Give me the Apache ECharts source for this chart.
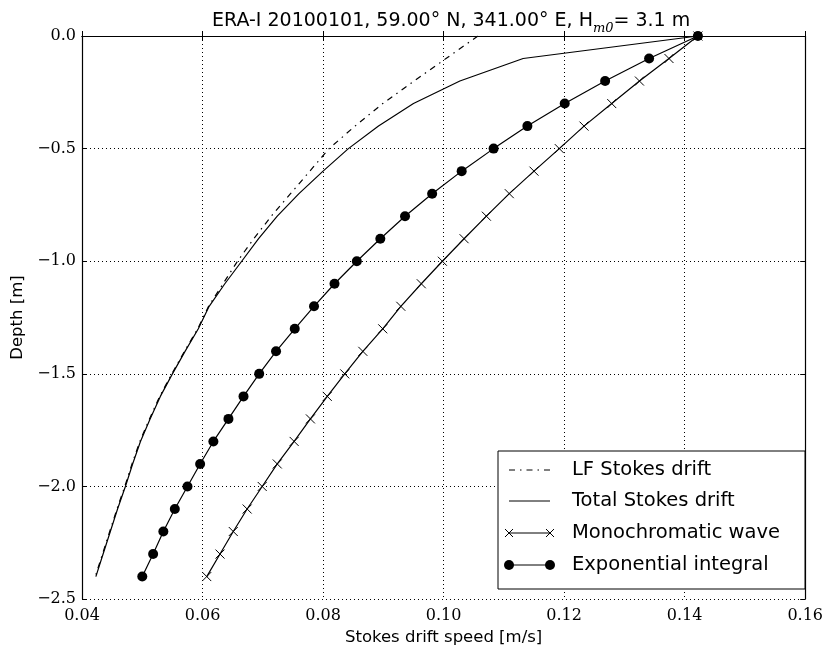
<!DOCTYPE html>
<html>
<head>
<meta charset="utf-8">
<script src="https://cdn.jsdelivr.net/npm/echarts@6/dist/echarts.min.js"></script>
<style>html,body{margin:0;padding:0;background:#fff;}#c{width:826px;height:651px;}</style>
</head>
<body>
<div id="c"></div>
<script>
const depth = [0, -0.1, -0.2, -0.3, -0.4, -0.5, -0.6, -0.7, -0.8, -0.9, -1.0, -1.1, -1.2, -1.3, -1.4, -1.5, -1.6, -1.7, -1.8, -1.9, -2.0, -2.1, -2.2, -2.3, -2.4];
const lfStokes = [0.1057, 0.1004, 0.0951, 0.0899, 0.0853, 0.0810, 0.0778, 0.0746, 0.0714, 0.0685, 0.0658, 0.0634, 0.0610, 0.0592, 0.0570, 0.0549, 0.0529, 0.0512, 0.0496, 0.0483, 0.0471, 0.0458, 0.0446, 0.0434, 0.0422];
const totalStokes = [0.1422, 0.1132, 0.1027, 0.0950, 0.0892, 0.0842, 0.0800, 0.0760, 0.0724, 0.0693, 0.0665, 0.0637, 0.0611, 0.0593, 0.0571, 0.0550, 0.0530, 0.0513, 0.0497, 0.0484, 0.0472, 0.0459, 0.0447, 0.0435, 0.0423];
const monoWave = [0.1422, 0.1374, 0.1325, 0.1279, 0.1233, 0.1192, 0.1150, 0.1109, 0.1071, 0.1034, 0.0998, 0.0963, 0.0929, 0.0899, 0.0866, 0.0836, 0.0807, 0.0779, 0.0752, 0.0724, 0.0699, 0.0674, 0.0651, 0.0629, 0.0607];
const expIntegral = [0.1422, 0.1341, 0.1268, 0.1201, 0.1139, 0.1083, 0.1030, 0.0981, 0.0936, 0.0895, 0.0856, 0.0819, 0.0785, 0.0753, 0.0722, 0.0694, 0.0668, 0.0643, 0.0618, 0.0596, 0.0575, 0.0554, 0.0535, 0.0518, 0.0500];
const seriesNames = ['LF Stokes drift', 'Total Stokes drift', 'Monochromatic wave', 'Exponential integral'];
const xTicks = {min: 0.04, max: 0.16, interval: 0.02};
const yTicks = {min: -2.5, max: 0, interval: 0.5};

const pairs = arr => arr.map((v, i) => [v, depth[i]]);
const serif = 'DejaVu Serif';
const sans = 'DejaVu Sans';
const xMark = 'path://M0,0L10,10M10,0L0,10';

const chart = echarts.init(document.getElementById('c'), null, {renderer: 'canvas'});

const tickStyle = {show: true, inside: true, length: 5, lineStyle: {color: '#000', width: 1}};
const axisLine = {show: true, lineStyle: {color: '#000', width: 1.2}};
const grid = {show: true, lineStyle: {color: '#000', width: 1, type: [1, 3]}};

// Legend rows
const legX0 = 498, legY0 = 451, legW = 307, legH = 138;
const rowY = [470, 501, 533, 565];
const lx1 = 509, lx2 = 550, tx = 572;
const legendEls = [
  {type: 'rect', shape: {x: legX0, y: legY0, width: legW, height: legH}, style: {fill: '#fff', stroke: '#000', lineWidth: 1}, z: 10},
  {type: 'line', shape: {x1: lx1, y1: rowY[0], x2: lx2, y2: rowY[0]}, style: {stroke: '#000', lineWidth: 1, lineDash: [6, 5, 1.5, 5]}, z: 11},
  {type: 'line', shape: {x1: lx1, y1: rowY[1], x2: lx2, y2: rowY[1]}, style: {stroke: '#000', lineWidth: 1}, z: 11},
  {type: 'line', shape: {x1: lx1, y1: rowY[2], x2: lx2, y2: rowY[2]}, style: {stroke: '#000', lineWidth: 1}, z: 11},
  {type: 'line', shape: {x1: lx1 - 4, y1: rowY[2] - 4, x2: lx1 + 4, y2: rowY[2] + 4}, style: {stroke: '#000', lineWidth: 1}, z: 11},
  {type: 'line', shape: {x1: lx1 - 4, y1: rowY[2] + 4, x2: lx1 + 4, y2: rowY[2] - 4}, style: {stroke: '#000', lineWidth: 1}, z: 11},
  {type: 'line', shape: {x1: lx2 - 4, y1: rowY[2] - 4, x2: lx2 + 4, y2: rowY[2] + 4}, style: {stroke: '#000', lineWidth: 1}, z: 11},
  {type: 'line', shape: {x1: lx2 - 4, y1: rowY[2] + 4, x2: lx2 + 4, y2: rowY[2] - 4}, style: {stroke: '#000', lineWidth: 1}, z: 11},
  {type: 'line', shape: {x1: lx1, y1: rowY[3], x2: lx2, y2: rowY[3]}, style: {stroke: '#000', lineWidth: 1}, z: 11},
  {type: 'circle', shape: {cx: lx1, cy: rowY[3], r: 5}, style: {fill: '#000'}, z: 11},
  {type: 'circle', shape: {cx: lx2, cy: rowY[3], r: 5}, style: {fill: '#000'}, z: 11}
];
seriesNames.forEach((n, i) => {
  legendEls.push({type: 'text', x: tx, y: rowY[i], style: {text: n, fill: '#000', font: '19.5px "DejaVu Sans"', verticalAlign: 'middle'}, z: 11});
});

const option = {
  backgroundColor: '#fff',
  animation: false,
  title: {
    text: '{a|ERA-I 20100101, 59.00° N, 341.00° E, H}{s|m0}{a|= 3.1 m}',
    left: 207, top: 2,
    textStyle: {
      rich: {
        a: {fontFamily: sans, fontSize: 19, fontWeight: 'normal', color: '#000', lineHeight: 24, verticalAlign: 'bottom'},
        s: {fontFamily: serif, fontStyle: 'italic', fontWeight: 'normal', fontSize: 13, color: '#000', lineHeight: 24, verticalAlign: 'bottom', padding: [0, 0, -4, 0]}
      }
    }
  },
  grid: {left: 82, top: 36, right: 18, bottom: 50, containLabel: false},
  xAxis: [
    {
      type: 'value', position: 'bottom', min: xTicks.min, max: xTicks.max, interval: xTicks.interval,
      axisLine: axisLine, axisTick: tickStyle, splitLine: grid,
      axisLabel: {color: '#000', fontFamily: serif, fontSize: 16, margin: 9, formatter: v => v.toFixed(2)},
      name: 'Stokes drift speed [m/s]', nameLocation: 'middle', nameGap: 27,
      nameTextStyle: {color: '#000', fontFamily: sans, fontSize: 16.5}
    },
    {
      type: 'value', position: 'top', min: xTicks.min, max: xTicks.max, interval: xTicks.interval,
      axisLine: axisLine, axisTick: tickStyle, splitLine: {show: false}, axisLabel: {show: false}
    }
  ],
  yAxis: [
    {
      type: 'value', position: 'left', min: yTicks.min, max: yTicks.max, interval: yTicks.interval,
      axisLine: axisLine, axisTick: tickStyle, splitLine: grid,
      axisLabel: {color: '#000', fontFamily: serif, fontSize: 16, margin: 6, formatter: v => (v < 0 ? '\u2212' : '') + Math.abs(v).toFixed(1)},
      name: 'Depth [m]', nameLocation: 'middle', nameGap: 55,
      nameTextStyle: {color: '#000', fontFamily: sans, fontSize: 16.5}
    },
    {
      type: 'value', position: 'right', min: yTicks.min, max: yTicks.max, interval: yTicks.interval,
      axisLine: axisLine, axisTick: tickStyle, splitLine: {show: false}, axisLabel: {show: false}
    }
  ],
  series: [
    {
      name: seriesNames[0], type: 'line', data: pairs(lfStokes), showSymbol: false, symbol: 'none',
      lineStyle: {color: '#000', width: 1.2, type: [6, 5, 1.5, 5]}, z: 3
    },
    {
      name: seriesNames[1], type: 'line', data: pairs(totalStokes), showSymbol: false, symbol: 'none',
      lineStyle: {color: '#000', width: 1.2}, z: 3
    },
    {
      name: seriesNames[2], type: 'line', data: pairs(monoWave), symbol: xMark, symbolSize: 9, showAllSymbol: true,
      itemStyle: {color: 'rgba(0,0,0,0)', borderColor: '#000', borderWidth: 1},
      lineStyle: {color: '#000', width: 1.2}, z: 3
    },
    {
      name: seriesNames[3], type: 'line', data: pairs(expIntegral), symbol: 'circle', symbolSize: 10, showAllSymbol: true,
      itemStyle: {color: '#000', borderWidth: 0},
      lineStyle: {color: '#000', width: 1.2}, z: 3
    }
  ],
  graphic: legendEls
};
chart.setOption(option);
</script>
</body>
</html>
